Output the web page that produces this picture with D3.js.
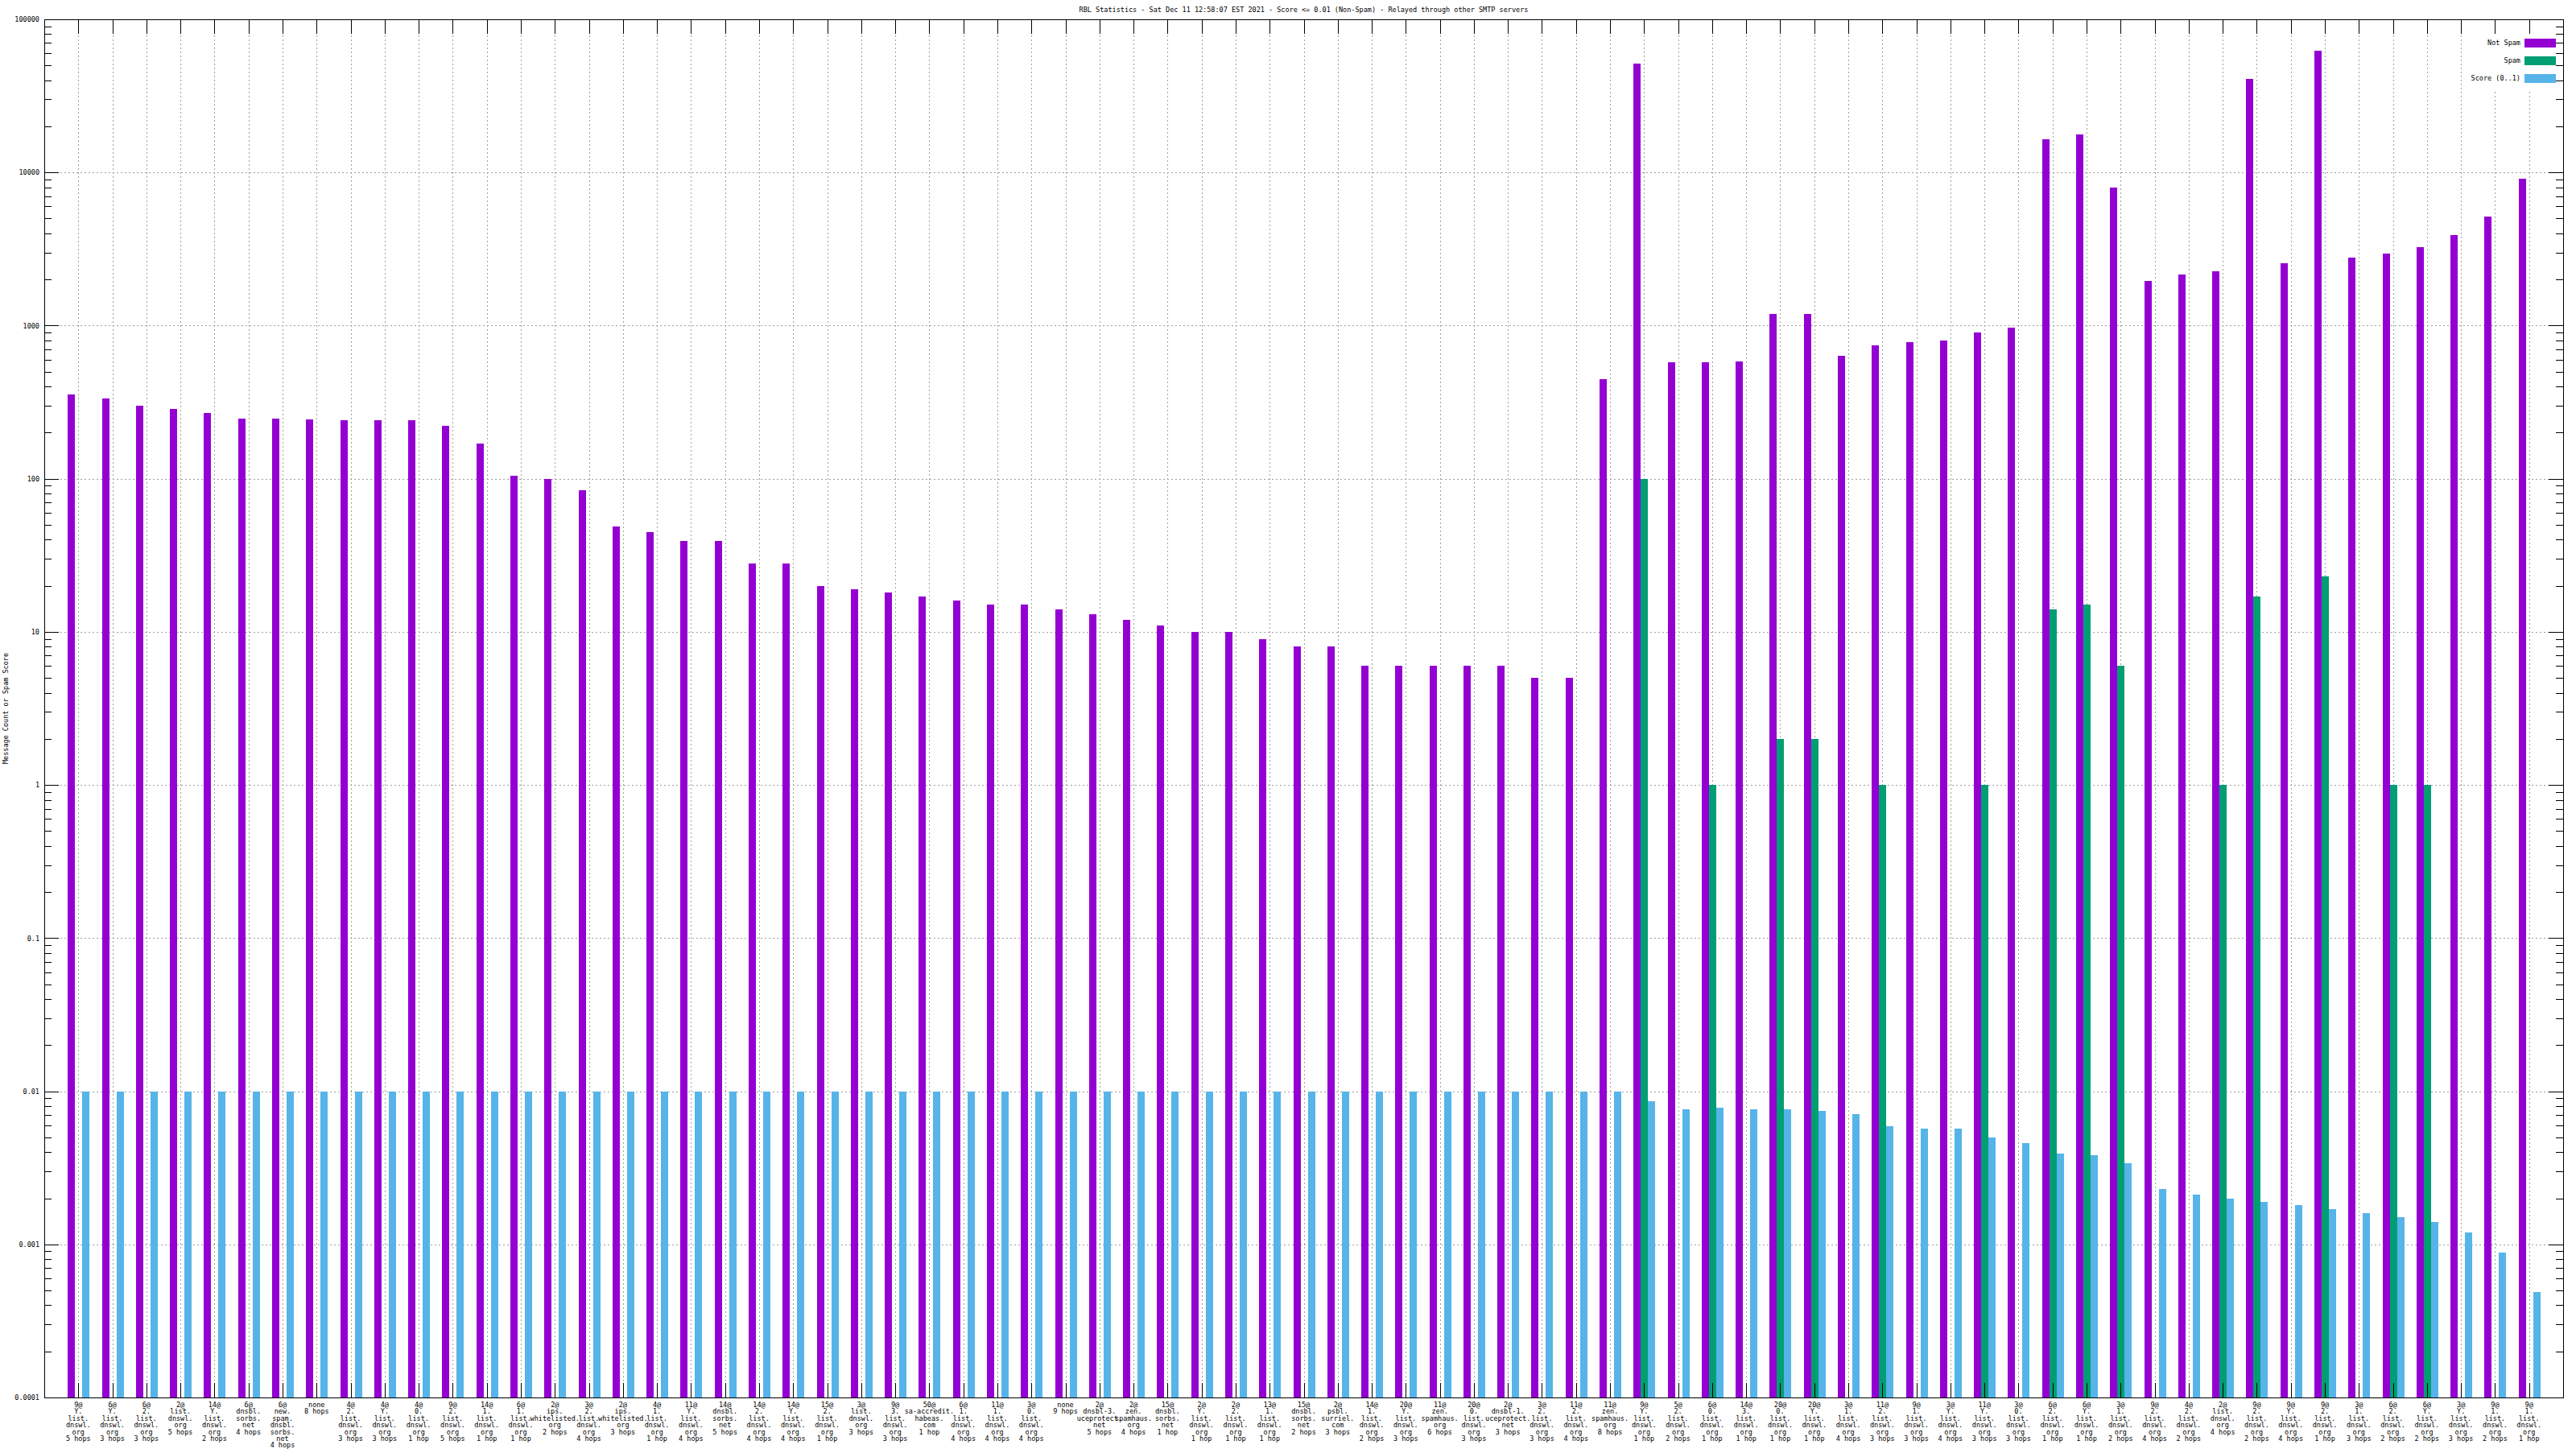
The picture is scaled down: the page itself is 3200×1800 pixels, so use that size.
<!DOCTYPE html>
<html>
<head>
<meta charset="utf-8">
<script src="https://cdn.jsdelivr.net/npm/d3@7"></script>
<style>
  html, body { margin: 0; padding: 0; background: #fff; }
  svg { display: block; }
  text { font-family: "DejaVu Sans Mono", "Liberation Mono", monospace; font-size: 8.5px; fill: #000; }
</style>
</head>
<body>
<script>
const titleText = "RBL Statistics - Sat Dec 11 12:58:07 EST 2021 - Score <= 0.01 (Non-Spam) - Relayed through other SMTP servers";
const yAxisTitle = "Message Count or Spam Score";
const seriesNames = ["Not Spam", "Spam", "Score (0..1)"];
const seriesColors = ["#9400d3", "#009e73", "#56b4e9"];

const categories = [
  "9@Y.list.dnswl.org 5 hops", "6@Y.list.dnswl.org 3 hops", "6@2.list.dnswl.org 3 hops", "2@list.dnswl.org 5 hops",
  "14@Y.list.dnswl.org 2 hops", "6@dnsbl.sorbs.net 4 hops", "6@new.spam.dnsbl.sorbs.net 4 hops", "none 8 hops",
  "4@2.list.dnswl.org 3 hops", "4@Y.list.dnswl.org 3 hops", "4@0.list.dnswl.org 1 hop", "9@2.list.dnswl.org 5 hops",
  "14@1.list.dnswl.org 1 hop", "6@1.list.dnswl.org 1 hop", "2@ips.whitelisted.org 2 hops", "3@2.list.dnswl.org 4 hops",
  "2@ips.whitelisted.org 3 hops", "4@1.list.dnswl.org 1 hop", "11@Y.list.dnswl.org 4 hops", "14@dnsbl.sorbs.net 5 hops",
  "14@2.list.dnswl.org 4 hops", "14@Y.list.dnswl.org 4 hops", "15@2.list.dnswl.org 1 hop", "3@list.dnswl.org 3 hops",
  "9@3.list.dnswl.org 3 hops", "50@sa-accredit.habeas.com 1 hop", "6@1.list.dnswl.org 4 hops", "11@1.list.dnswl.org 4 hops",
  "3@0.list.dnswl.org 4 hops", "none 9 hops", "2@dnsbl-3.uceprotect.net 5 hops", "2@zen.spamhaus.org 4 hops",
  "15@dnsbl.sorbs.net 1 hop", "2@Y.list.dnswl.org 1 hop", "2@2.list.dnswl.org 1 hop", "13@1.list.dnswl.org 1 hop",
  "15@dnsbl.sorbs.net 2 hops", "2@psbl.surriel.com 3 hops", "14@1.list.dnswl.org 2 hops", "20@Y.list.dnswl.org 3 hops",
  "11@zen.spamhaus.org 6 hops", "20@0.list.dnswl.org 3 hops", "2@dnsbl-1.uceprotect.net 3 hops", "3@2.list.dnswl.org 3 hops",
  "11@2.list.dnswl.org 4 hops", "11@zen.spamhaus.org 8 hops", "9@Y.list.dnswl.org 1 hop", "5@2.list.dnswl.org 2 hops",
  "6@0.list.dnswl.org 1 hop", "14@3.list.dnswl.org 1 hop", "20@0.list.dnswl.org 1 hop", "20@Y.list.dnswl.org 1 hop",
  "3@1.list.dnswl.org 4 hops", "11@2.list.dnswl.org 3 hops", "9@1.list.dnswl.org 3 hops", "3@Y.list.dnswl.org 4 hops",
  "11@Y.list.dnswl.org 3 hops", "3@0.list.dnswl.org 3 hops", "6@2.list.dnswl.org 1 hop", "6@Y.list.dnswl.org 1 hop",
  "3@1.list.dnswl.org 2 hops", "9@2.list.dnswl.org 4 hops", "4@2.list.dnswl.org 2 hops", "2@list.dnswl.org 4 hops",
  "9@2.list.dnswl.org 2 hops", "9@Y.list.dnswl.org 4 hops", "9@2.list.dnswl.org 1 hop", "3@1.list.dnswl.org 3 hops",
  "6@2.list.dnswl.org 2 hops", "6@Y.list.dnswl.org 2 hops", "3@Y.list.dnswl.org 3 hops", "9@1.list.dnswl.org 2 hops",
  "9@1.list.dnswl.org 1 hop"
];

const notSpam = [
  357, 336, 301, 287, 270, 248, 248, 245, 242, 242, 242, 222,
  170, 105, 100, 84, 49, 45, 39, 39, 28, 28, 20, 19,
  18, 17, 16, 15, 15, 14, 13, 12, 11, 10, 10, 9,
  8, 8, 6, 6, 6, 6, 6, 5, 5, 445, 51700, 575,
  575, 585, 1190, 1190, 635, 745, 778, 796, 900, 970, 16400, 17800,
  7960, 1960, 2150, 2265, 40900, 2560, 62100, 2780, 2950, 3260, 3910, 5180,
  9130
];

const spam = [
  0, 0, 0, 0, 0, 0, 0, 0, 0, 0, 0, 0,
  0, 0, 0, 0, 0, 0, 0, 0, 0, 0, 0, 0,
  0, 0, 0, 0, 0, 0, 0, 0, 0, 0, 0, 0,
  0, 0, 0, 0, 0, 0, 0, 0, 0, 0, 100, 0,
  1, 0, 2, 2, 0, 1, 0, 0, 1, 0, 14, 15,
  6, 0, 0, 1, 17, 0, 23, 0, 1, 1, 0, 0,
  0
];

const score = [
  0.01, 0.01, 0.01, 0.01, 0.01, 0.01, 0.01, 0.01, 0.01, 0.01, 0.01, 0.01,
  0.01, 0.01, 0.01, 0.01, 0.01, 0.01, 0.01, 0.01, 0.01, 0.01, 0.01, 0.01,
  0.01, 0.01, 0.01, 0.01, 0.01, 0.01, 0.01, 0.01, 0.01, 0.01, 0.01, 0.01,
  0.01, 0.01, 0.01, 0.01, 0.01, 0.01, 0.01, 0.01, 0.01, 0.01, 0.0086, 0.0076,
  0.0078, 0.0076, 0.0076, 0.0074, 0.0071, 0.0059, 0.0057, 0.0057, 0.0050, 0.0046, 0.0039, 0.0038,
  0.0034, 0.0023, 0.0021, 0.0020, 0.0019, 0.0018, 0.0017, 0.0016, 0.0015, 0.0014, 0.0012, 0.00088,
  0.00049
];

const yTickValues = [100000, 10000, 1000, 100, 10, 1, 0.1, 0.01, 0.001, 0.0001];
const yTickLabels = ["100000", "10000", "1000", "100", "10", "1", "0.1", "0.01", "0.001", "0.0001"];

const W = 3200, H = 1800;
const plot = { left: 55, right: 3184, top: 24, bottom: 1736 };

const svg = d3.select("body").append("svg").attr("width", W).attr("height", H);

const x = d3.scalePoint().domain(d3.range(categories.length)).range([plot.left, plot.right]).padding(1);
const sub = d3.scaleBand().domain([0, 1, 2]).range([-13, 14]);
const y = d3.scaleLog().domain([0.0001, 100000]).range([plot.bottom, plot.top]);

const minorTicks = [];
for (let e = -4; e < 5; e++) for (let m = 2; m <= 9; m++) minorTicks.push(m * Math.pow(10, e));

// grid
const grid = svg.append("g").attr("stroke", "#a0a0a0").attr("stroke-width", 1).attr("stroke-dasharray", "2,3").attr("shape-rendering", "crispEdges");
grid.selectAll("line.v").data(d3.range(categories.length)).join("line")
  .attr("x1", d => Math.round(x(d)) + 0.5).attr("x2", d => Math.round(x(d)) + 0.5)
  .attr("y1", plot.top).attr("y2", plot.bottom);
grid.selectAll("line.h").data(yTickValues.slice(1, -1)).join("line")
  .attr("x1", plot.left).attr("x2", plot.right)
  .attr("y1", d => Math.round(y(d)) + 0.5).attr("y2", d => Math.round(y(d)) + 0.5);

// opaque key box
svg.append("rect").attr("x", 3066).attr("y", plot.top + 1).attr("width", plot.right - 3066 - 1).attr("height", 86).attr("fill", "#fff");

// bars
const seriesData = [notSpam, spam, score];
seriesData.forEach((vals, s) => {
  svg.append("g").attr("fill", seriesColors[s]).attr("shape-rendering", "crispEdges")
    .selectAll("rect").data(vals.map((v, i) => ({ v, i })).filter(d => d.v > 0)).join("rect")
    .attr("x", d => Math.round(x(d.i) + sub(s)))
    .attr("width", sub.bandwidth())
    .attr("y", d => y(d.v))
    .attr("height", d => plot.bottom - y(d.v));
});

// axes with d3 axis generators
const majorLen = 18, minorLen = 9;
const axisG = svg.append("g").attr("shape-rendering", "crispEdges");

// left axis major
const leftAxis = d3.axisRight(y).tickValues(yTickValues).tickSize(majorLen).tickFormat((d, i) => yTickLabels[i]);
const la = axisG.append("g").attr("transform", `translate(${plot.left},0)`).call(leftAxis);
la.select(".domain").remove();
la.selectAll("text").attr("x", -6).attr("dy", "0.32em").attr("text-anchor", "end")
  .style("font-family", '"DejaVu Sans Mono", monospace').style("font-size", "8.5px");
la.selectAll("line").attr("stroke", "#000");
// left minor
const lm = axisG.append("g").attr("transform", `translate(${plot.left},0)`).call(d3.axisRight(y).tickValues(minorTicks).tickSize(minorLen).tickFormat(""));
lm.select(".domain").remove();
// right axis
const ra = axisG.append("g").attr("transform", `translate(${plot.right},0)`).call(d3.axisLeft(y).tickValues(yTickValues).tickSize(majorLen).tickFormat(""));
ra.select(".domain").remove();
const rm = axisG.append("g").attr("transform", `translate(${plot.right},0)`).call(d3.axisLeft(y).tickValues(minorTicks).tickSize(minorLen).tickFormat(""));
rm.select(".domain").remove();

// bottom axis
const ba = axisG.append("g").attr("transform", `translate(0,${plot.bottom})`).call(d3.axisTop(x).tickSize(majorLen).tickFormat(""));
ba.select(".domain").remove();
const ta = axisG.append("g").attr("transform", `translate(0,${plot.top})`).call(d3.axisBottom(x).tickSize(majorLen).tickFormat(""));
ta.select(".domain").remove();
axisG.selectAll("line").attr("stroke", "#000");

// x labels (multi-line)
function splitLabel(s) {
  const m = s.match(/^(.*?) (\d+ hops?)$/);
  const host = m[1], hops = m[2];
  const parts = host.split(/(?<=[@.])/);
  return parts.concat([hops]);
}
const xl = svg.append("g").attr("text-anchor", "middle");
categories.forEach((c, i) => {
  const t = xl.append("text").attr("x", x(i)).attr("y", plot.bottom + 12);
  splitLabel(c).forEach((line, k) => {
    t.append("tspan").attr("x", x(i)).attr("dy", k === 0 ? 0 : 8.4).text(line);
  });
});

// border
svg.append("rect").attr("x", plot.left + 0.5).attr("y", plot.top + 0.5)
  .attr("width", plot.right - plot.left).attr("height", plot.bottom - plot.top)
  .attr("fill", "none").attr("stroke", "#000").attr("stroke-width", 1).attr("shape-rendering", "crispEdges");

// title
svg.append("text").attr("x", (plot.left + plot.right) / 2).attr("y", 15).attr("text-anchor", "middle").text(titleText);

// y axis title
svg.append("text").attr("transform", `translate(10,${(plot.top + plot.bottom) / 2}) rotate(-90)`)
  .attr("text-anchor", "middle").text(yAxisTitle);

// legend
const lg = svg.append("g");
seriesNames.forEach((n, i) => {
  const cy = 53 + i * 22;
  lg.append("text").attr("x", 3131).attr("y", cy).attr("dy", "0.32em").attr("text-anchor", "end").text(n);
  lg.append("rect").attr("x", 3136).attr("y", cy - 5).attr("width", 39).attr("height", 11).attr("fill", seriesColors[i]);
});
</script>
</body>
</html>
